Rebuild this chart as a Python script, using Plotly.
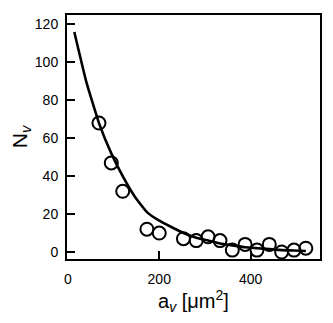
import plotly.graph_objects as go

# Measured data (open circles)
area_um2 = [68, 95, 120, 173, 200, 253, 281, 307, 333, 360, 388, 414, 441, 468, 495, 521]
count_nv = [68, 47, 32, 12, 10, 7, 6, 8, 6, 1, 4, 1, 4, 0, 1, 2]

# Fitted curve
fit_area = [14, 40, 68, 95, 120, 147, 173, 200, 253, 281, 307, 333, 360, 388, 414, 441, 468, 495, 521]
fit_nv = [116, 90, 68, 52, 40, 29, 21, 16.5, 10, 7.5, 6, 4.5, 3.5, 2.5, 2, 1.5, 1, 0.8, 0.5]

x_ticks = [0, 200, 400]
y_ticks = [0, 20, 40, 60, 80, 100, 120]

W, H = 333, 323
ML, MR, MT, MB = 59, 21, 5, 72
X_RANGE = [-2, 552]
Y_RANGE = [-3.7, 125]

fig = go.Figure()
fig.add_trace(go.Scatter(
    x=fit_area, y=fit_nv, mode="lines", line=dict(color="black", width=2.6, shape="spline", smoothing=0.4),
    showlegend=False, hoverinfo="skip"))
fig.add_trace(go.Scatter(
    x=area_um2, y=count_nv, mode="markers",
    marker=dict(symbol="circle-open", size=13, color="black", line=dict(width=2, color="black")),
    showlegend=False))

font_family = "Liberation Sans, Arial, Helvetica, sans-serif"
axis_common = dict(
    showline=True, linecolor="black", linewidth=2, mirror=True,
    ticks="inside", ticklen=8, tickwidth=2, tickcolor="black",
    showgrid=False, zeroline=False, tickfont=dict(size=14),
)
fig.update_layout(
    width=W, height=H,
    margin=dict(l=ML, r=MR, t=MT, b=MB),
    paper_bgcolor="white", plot_bgcolor="white",
    font=dict(family=font_family, color="black", size=14),
    xaxis=dict(
        range=X_RANGE, tickvals=x_ticks, ticktext=[str(v) for v in x_ticks], ticklabelstandoff=6,
        title=dict(text="a<sub><i>v</i></sub> [μm<sup>2</sup>]", font=dict(size=20), standoff=6),
        **axis_common,
    ),
    yaxis=dict(
        range=Y_RANGE, tickvals=y_ticks, ticktext=[str(v) for v in y_ticks], ticklabelstandoff=4,
        title=dict(text="N<sub><i>v</i></sub>", font=dict(size=21), standoff=6),
        **axis_common,
    ),
)

fig.write_html("out.html")
